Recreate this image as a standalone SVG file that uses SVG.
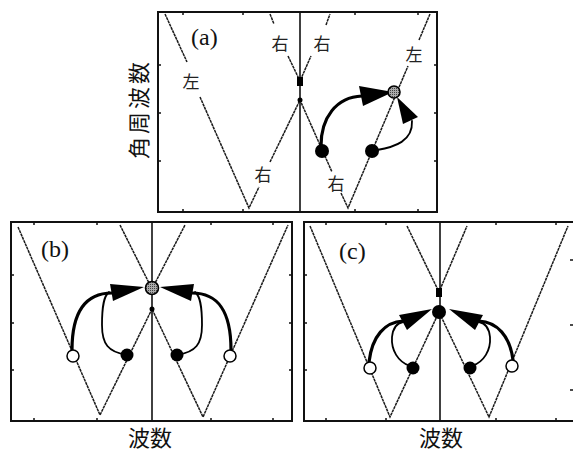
<svg xmlns="http://www.w3.org/2000/svg" width="573" height="453" viewBox="0 0 573 453">
<defs>
<style>
.frame{fill:none;stroke:#111;stroke-width:2}
.axis{stroke:#111;stroke-width:1.6}
.tick{stroke:#111;stroke-width:1.5}
.disp{fill:none;stroke:#1a1a1a;stroke-width:1.5;stroke-dasharray:3 0.6}
.thick{fill:none;stroke:#000;stroke-width:3.2;stroke-linecap:round}
.thin{fill:none;stroke:#000;stroke-width:1.8;stroke-linecap:round}
.head{fill:#000}
.blk{fill:#000}
.open{fill:#fff;stroke:#000;stroke-width:1.5}
.gray{fill:url(#hatch);stroke:#000;stroke-width:1.6}
.tag{font-family:"Liberation Serif",serif;font-size:24px;fill:#111}
.jp{font-family:"Noto Sans CJK JP",sans-serif;font-size:17px;fill:#222;text-anchor:middle;dominant-baseline:central}
.ax{font-family:"Noto Sans CJK JP",sans-serif;font-size:22px;fill:#111;text-anchor:middle;dominant-baseline:central}
</style>
<pattern id="hatch" width="2" height="2" patternUnits="userSpaceOnUse">
<rect width="2" height="2" fill="#aaa"/>
<rect width="1" height="1" fill="#444"/>
</pattern>
</defs>
<rect width="573" height="453" fill="#fff"/>

<g id="panel-a">
<rect class="frame" x="158" y="12" width="279" height="200"/>
<line class="axis" x1="300" y1="12" x2="300" y2="212"/>
<path class="tick" d="M183,12v3M243,12v3M355,12v3M418,12v3M183,212v-3M243,212v-3M355,212v-3M418,212v-3M158,65h3M158,113h3M158,161h3M437,65h-3M437,113h-3M437,161h-3"/>
<path class="disp" d="M165,14L187,62M200,97L249,208L259,187M270,162L300,100L332,172M341,193L348,208L408,66M419,40L430,14M270,14L274,24M288,56L300,81L311,56M326,25L330,14"/>
<rect class="blk" x="297" y="77" width="6" height="9"/>
<circle class="blk" cx="300" cy="100" r="2.5"/>
<text class="tag" x="191" y="45">(a)</text>
<text class="jp" x="280" y="42">右</text>
<text class="jp" x="322" y="42">右</text>
<text class="jp" x="414" y="53">左</text>
<text class="jp" x="191" y="80">左</text>
<text class="jp" x="263" y="173">右</text>
<text class="jp" x="336" y="182">右</text>
</g>

<g id="panel-b">
<rect class="frame" x="11" y="222" width="281" height="199"/>
<line class="axis" x1="152" y1="222" x2="152" y2="421"/>
<path class="tick" d="M34,222v3M97,222v3M211,222v3M273,222v3M34,421v-3M97,421v-3M211,421v-3M273,421v-3M11,275h3M11,323h3M11,370h3M292,275h-3M292,323h-3M292,370h-3"/>
<path class="disp" d="M18,227L100,415L152,309L203,417L288,225M120,225L152,289L185,225"/>
<circle class="blk" cx="152" cy="309" r="2.5"/>
<text class="tag" x="41" y="257">(b)</text>
</g>

<g id="panel-c">
<path class="frame" d="M574,222H304V421H574"/>
<line class="axis" x1="440" y1="222" x2="440" y2="421"/>
<path class="tick" d="M326,222v3M386,222v3M496,222v3M556,222v3M326,421v-3M386,421v-3M496,421v-3M556,421v-3M304,275h3M304,323h3M304,370h3M573,260h-3M573,325h-3M573,390h-3"/>
<path class="disp" d="M310,226L390,417L439,312L489,417L568,226M407,226L439,292L467,226"/>
<rect class="blk" x="436" y="288" width="6" height="9"/>
<text class="tag" x="339" y="259">(c)</text>
</g>

<g id="connectors">
<path class="thick" d="M321,146C321,118 336,97 362,96"/>
<polygon class="head" points="359,86 393,92 363,106"/>
<path class="thin" d="M377,150C395,147 413,141 412,121"/>
<polygon class="head" points="397,97 403,124 418,117"/>
<path class="thick" d="M72,350C72,312 85,293 112,293"/>
<polygon class="head" points="110,284 144,287 113,301"/>
<path class="thin" d="M127,355C108,352 102,344 102,325C102,305 104,296 109,292"/>
<path class="thick" d="M231,350C231,312 219,293 192,293"/>
<polygon class="head" points="194,284 160,287 191,301"/>
<path class="thin" d="M177,355C196,352 202,344 202,325C202,305 200,296 195,292"/>
<path class="thick" d="M369,362C372,336 385,322 403,321"/>
<polygon class="head" points="399,315 432,309 407,330"/>
<path class="thin" d="M410,366C398,362 391,350 392,337C393,328 397,323 403,322"/>
<path class="thick" d="M513,360C510,336 497,322 479,321"/>
<polygon class="head" points="483,315 449,309 475,330"/>
<path class="thin" d="M472,366C484,362 491,350 490,337C489,328 485,323 479,322"/>
</g>

<g id="n-a-black1"><circle class="blk" cx="322" cy="151" r="7"/></g>
<g id="n-a-black2"><circle class="blk" cx="372" cy="151" r="7"/></g>
<g id="n-a-gray"><circle class="gray" cx="394" cy="92" r="6"/></g>
<g id="n-b-open-l"><circle class="open" cx="73" cy="356" r="6"/></g>
<g id="n-b-black-l"><circle class="blk" cx="127" cy="355" r="6.5"/></g>
<g id="n-b-black-r"><circle class="blk" cx="177" cy="355" r="6.5"/></g>
<g id="n-b-open-r"><circle class="open" cx="230" cy="356" r="6"/></g>
<g id="n-b-gray"><circle class="gray" cx="152" cy="288" r="6.5"/></g>
<g id="n-c-open-l"><circle class="open" cx="370" cy="368" r="6"/></g>
<g id="n-c-black-l"><circle class="blk" cx="413" cy="368" r="6.5"/></g>
<g id="n-c-black-r"><circle class="blk" cx="470" cy="368" r="6.5"/></g>
<g id="n-c-open-r"><circle class="open" cx="512" cy="366" r="6"/></g>
<g id="n-c-center"><circle class="blk" cx="439" cy="312" r="7"/></g>

<g id="axis-labels">
<text class="ax" transform="translate(137,109) rotate(-90)" letter-spacing="3">角周波数</text>
<text class="ax" x="150" y="436">波数</text>
<text class="ax" x="441" y="436">波数</text>
</g>
</svg>
